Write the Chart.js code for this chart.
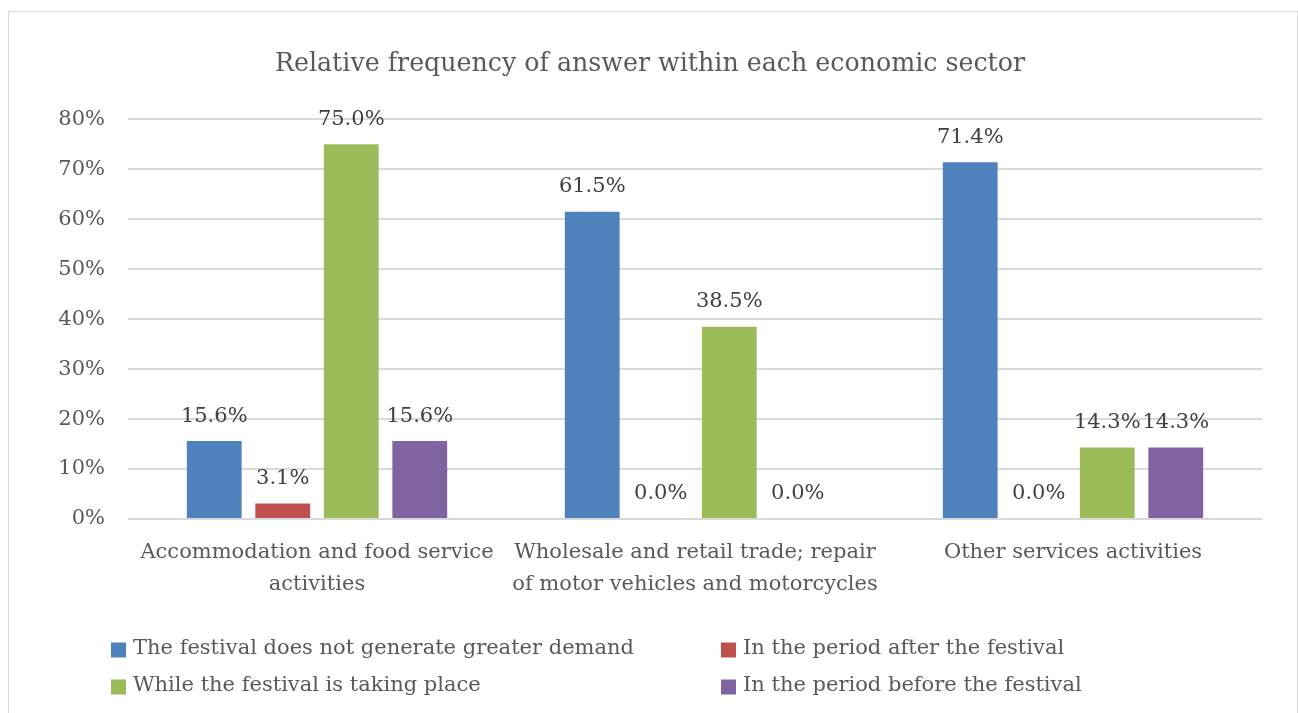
<!DOCTYPE html>
<html>
<head>
<meta charset="utf-8">
<script src="https://cdn.jsdelivr.net/npm/chart.js@4/dist/chart.umd.min.js"></script>
<style>
  html, body { margin: 0; padding: 0; background: #ffffff; }
  body { width: 1298px; height: 713px; position: relative; overflow: hidden; }
  #frame { position: absolute; left: 8px; top: 11px; width: 1290px; height: 720px;
           border: 1px solid #d9d9d9; box-sizing: border-box; }
  #chart { position: absolute; left: 0; top: 0; }
</style>
</head>
<body>
<div id="frame"></div>
<canvas id="chart" width="1298" height="713"></canvas>
<script>
// Economic sectors (x-axis categories, wrapped over lines)
const categories = [
  ['Accommodation and food service', 'activities'],
  ['Wholesale and retail trade; repair', 'of motor vehicles and motorcycles'],
  ['Other services activities']
];

// Share of answers (%) per sector
const noGreaterDemand = [15.6, 61.5, 71.4];
const periodAfter     = [3.1, 0.0, 0.0];
const whileTakingPlace = [75.0, 38.5, 14.3];
const periodBefore    = [15.6, 0.0, 14.3];

const seriesNames = [
  'The festival does not generate greater demand',
  'In the period after the festival',
  'While the festival is taking place',
  'In the period before the festival'
];
const seriesColors = ['#4f81bd', '#c0504d', '#9bbb59', '#8064a2'];

// Y-axis range and tick labels
const yTicks = [0, 10, 20, 30, 40, 50, 60, 70, 80];
const yTickLabels = ['0%', '10%', '20%', '30%', '40%', '50%', '60%', '70%', '80%'];

const FONT = "'DejaVu Serif', serif";
const TEXT = '#595959';

// Value labels above every bar
const valueLabels = {
  id: 'valueLabels',
  afterDatasetsDraw(chart) {
    const ctx = chart.ctx;
    ctx.save();
    ctx.font = '21px ' + FONT;
    ctx.fillStyle = '#404040';
    ctx.textAlign = 'center';
    ctx.textBaseline = 'middle';
    chart.data.datasets.forEach((ds, di) => {
      chart.getDatasetMeta(di).data.forEach((bar, i) => {
        ctx.fillText(ds.data[i].toFixed(1) + '%', bar.x, bar.y - 25);
      });
    });
    ctx.restore();
  }
};

// Two-column legend under the axis labels
const gridLegend = {
  id: 'gridLegend',
  afterDraw(chart) {
    const ctx = chart.ctx;
    const a = chart.chartArea;
    const colX = [a.left - 17, a.left + 593];
    const rowY = [a.bottom + 131, a.bottom + 168];
    ctx.save();
    ctx.font = '21px ' + FONT;
    ctx.textAlign = 'left';
    ctx.textBaseline = 'middle';
    chart.data.datasets.forEach((ds, di) => {
      const x = colX[di % 2];
      const y = rowY[Math.floor(di / 2)];
      ctx.fillStyle = ds.backgroundColor;
      ctx.fillRect(x, y - 7.5, 15, 15);
      ctx.fillStyle = TEXT;
      ctx.fillText(ds.label, x + 22, y - 1);
    });
    ctx.restore();
  }
};

const seriesValues = [noGreaterDemand, periodAfter, whileTakingPlace, periodBefore];

new Chart(document.getElementById('chart'), {
  type: 'bar',
  data: {
    labels: categories,
    datasets: seriesValues.map((vals, i) => ({
      label: seriesNames[i],
      data: vals,
      backgroundColor: seriesColors[i],
      borderWidth: 0,
      categoryPercentage: 0.725,
      barPercentage: 0.8
    }))
  },
  options: {
    responsive: false,
    animation: false,
    layout: { padding: { left: 38, right: 36, top: 0, bottom: 112 } },
    plugins: {
      legend: { display: false },
      tooltip: { enabled: false },
      title: {
        display: true,
        text: 'Relative frequency of answer within each economic sector',
        color: TEXT,
        font: { family: FONT, size: 25.3, weight: 'normal', lineHeight: 1.2 },
        padding: { top: 49, bottom: 40 }
      }
    },
    scales: {
      x: {
        grid: { display: false, drawTicks: false },
        border: { display: false },
        ticks: {
          color: TEXT,
          padding: 18,
          maxRotation: 0,
          autoSkip: false,
          font: { family: FONT, size: 21, lineHeight: 32 / 21 }
        },
        afterFit(scale) { scale.height = 82; }
      },
      y: {
        min: yTicks[0],
        max: yTicks[yTicks.length - 1],
        grid: { color: '#d9d9d9', lineWidth: 2, drawTicks: false },
        border: { display: false },
        ticks: {
          color: TEXT,
          padding: 23,
          stepSize: 10,
          font: { family: FONT, size: 21 },
          callback: (v) => yTickLabels[yTicks.indexOf(v)]
        },
        afterFit(scale) { scale.width = 90; }
      }
    }
  },
  plugins: [valueLabels, gridLegend]
});
</script>
</body>
</html>
